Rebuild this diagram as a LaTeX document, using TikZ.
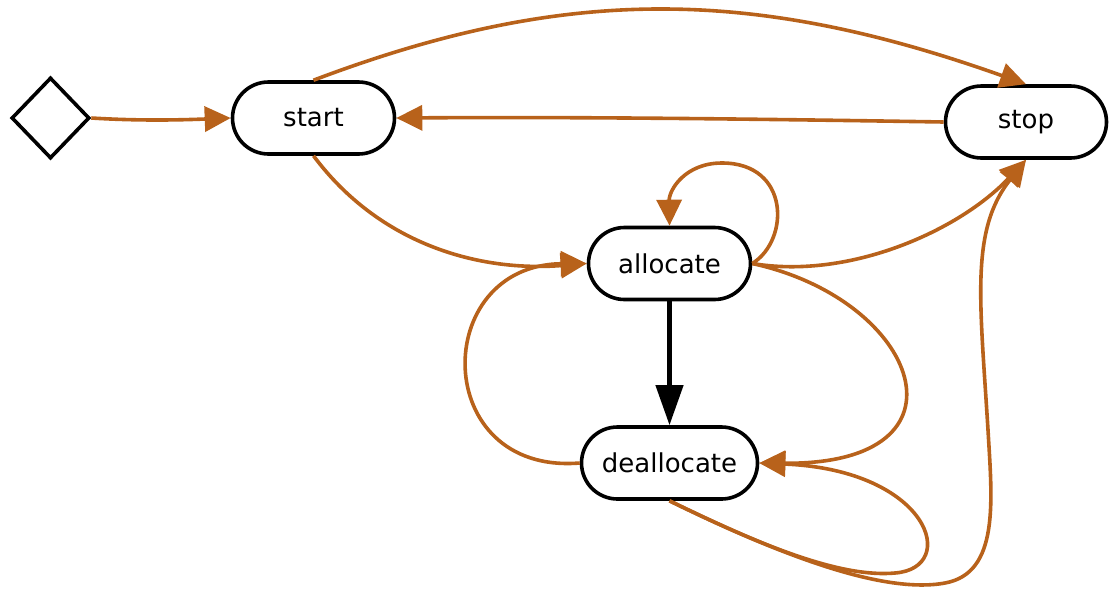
\documentclass[tikz,border=0pt]{standalone}
\usepackage{fontspec}
\setmainfont{DejaVu Sans}
\usepackage{tikz}
\usepackage{xcolor}
\usetikzlibrary{shapes.geometric, arrows.meta, positioning, calc}

\definecolor{edgeorange}{HTML}{B8621B}

\begin{document}
\begin{tikzpicture}[x=1pt, y=-1pt,
    state/.style={draw, line width=3.6pt, rectangle, rounded corners=36pt,
        minimum height=72pt, inner sep=0pt, font=\fontsize{26}{30}\selectfont},
    trans/.style={draw=edgeorange, line width=3.6pt,
        -{Triangle[length=26pt, width=25pt, fill=edgeorange]}},
    main/.style={draw=black, line width=4.3pt,
        -{Triangle[length=40pt, width=27pt]}}]
\useasboundingbox (0,0) rectangle (1110,590);

% initial pseudo state
\node[diamond, draw, line width=3.6pt, minimum width=78pt, minimum height=81pt,
      inner sep=0pt] (init) at (50.5,118) {};

% states
\node[state, minimum width=162pt] (start) at (313.5,118) {start};
\node[state, minimum width=161pt] (stop) at (1026,122) {stop};
\node[state, minimum width=162pt] (alloc) at (669.5,263.5) {allocate};
\node[state, minimum width=176pt] (dealloc) at (669.5,463) {deallocate};

% transitions
\draw[trans] (init.east) .. controls (140,121) and (180,120) .. (start.west);
\draw[trans] (start.north) .. controls (563,-14) and (750,-14) .. (stop.north);
\draw[trans] (stop.west) .. controls (700,118) and (550,117) .. (start.east);
\draw[trans] (start.south) .. controls (380,245) and (480,272) .. (alloc.west);
\draw[trans] (alloc.east) .. controls (790,240) and (790,163) .. (722,163)
    .. controls (685,163) and (669,190) .. (alloc.north);
\draw[trans] (alloc.east) .. controls (850,280) and (960,230) .. (stop.south);
\draw[main] (alloc.south) -- (dealloc.north);
\draw[trans] (dealloc.west) .. controls (430,475) and (430,265) .. (alloc.west);
\draw[trans] (alloc.east) .. controls (920,300) and (980,465) .. (dealloc.east);
\draw[trans] (dealloc.south) .. controls (760,545) and (840,578) .. (895,573)
    .. controls (960,568) and (930,470) .. (dealloc.east);
\draw[trans] (dealloc.south) .. controls (770,550) and (880,595) .. (945,583)
    .. controls (1000,573) and (992,500) .. (988,430)
    .. controls (980,300) and (970,230) .. (stop.south);
\end{tikzpicture}
\end{document}
